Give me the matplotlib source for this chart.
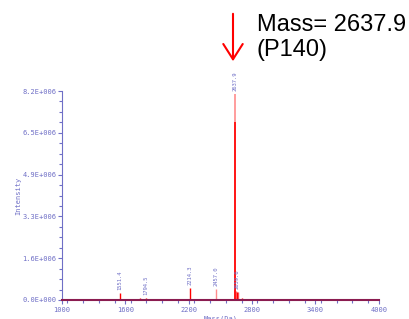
import matplotlib
matplotlib.use("Agg")
import matplotlib.pyplot as plt
from matplotlib.ticker import MultipleLocator

# peaks (mass in Da, intensity)
masses = [1390, 1551.4, 1736, 1794.5, 1990, 2100, 2214.3, 2457.0, 2637.9, 2639.5, 2652, 2659.6, 2668, 2700, 3050, 3300, 3330]
intens = [0.03e6, 0.29e6, 0.07e6, 0.09e6, 0.03e6, 0.04e6, 0.48e6, 0.44e6, 8.1e6, 7.0e6, 0.35e6, 0.33e6, 0.30e6, 0.06e6, 0.04e6, 0.05e6, 0.04e6]
alphas = [1, 1, 1, 1, 1, 1, 1, 0.45, 0.45, 1, 0.6, 1, 0.6, 1, 1, 1, 1]

labeled = ["1551.4", "1794.5", "2214.3", "2457.0", "2637.9", "2659.6"]

yticks = [0, 1.64e6, 3.28e6, 4.92e6, 6.56e6, 8.2e6]
ytick_labels = ["0.0E+000", "1.6E+006", "3.3E+006", "4.9E+006", "6.5E+006", "8.2E+006"]
xticks = [1000, 1600, 2200, 2800, 3400, 4000]

blue = "#6f6fc6"
maroon = "#8b1c50"

fig = plt.figure(figsize=(4.10, 3.19), dpi=100)
ax = fig.add_axes([0.151, 0.0596, 0.773, 0.655])

for m, h, a in zip(masses, intens, alphas):
    ax.vlines(m, 0, h, color="red", alpha=a, linewidth=1.2 if h > 5e6 else 1.0)

for lab in labeled:
    m = float(lab)
    h = max(i for mm, i in zip(masses, intens) if abs(mm - m) < 0.01)
    ax.text(m, h + 0.12e6, lab, rotation=90, fontsize=4, color=blue,
            family="DejaVu Sans Mono", ha="center", va="bottom")

ax.set_xlim(1000, 4000)
ax.set_ylim(0, 8.2e6)
ax.set_xticks(xticks)
ax.set_xticklabels([str(x) for x in xticks])
ax.xaxis.set_minor_locator(MultipleLocator(150))
ax.set_yticks(yticks)
ax.set_yticklabels(ytick_labels)
ax.yaxis.set_minor_locator(MultipleLocator(1.64e6 / 4))

ax.spines["top"].set_visible(False)
ax.spines["right"].set_visible(False)
ax.spines["left"].set_color(blue)
ax.spines["bottom"].set_color(maroon)
ax.spines["bottom"].set_linewidth(1.5)

ax.tick_params(axis="both", which="both", colors=blue, labelsize=5, width=0.8)
ax.tick_params(axis="both", which="major", length=3, pad=1)
ax.tick_params(axis="x", which="major", pad=2)
ax.tick_params(axis="both", which="minor", length=2)
for t in ax.get_xticklabels() + ax.get_yticklabels():
    t.set_family("DejaVu Sans Mono")

ax.set_xlabel("Mass(Da)", fontsize=5, color=blue, family="DejaVu Sans Mono", labelpad=2)
ax.set_ylabel("Intensity", fontsize=5, color=blue, family="DejaVu Sans Mono", labelpad=1)

# annotation arrow and text
fig.patches.append(matplotlib.patches.FancyArrowPatch(
    (233 / 410, 1 - 11 / 319), (233 / 410, 1 - 64 / 319), transform=fig.transFigure,
    arrowstyle="->,head_length=11,head_width=7", color="red", linewidth=1.5))
fig.text(257 / 410, 1 - 14 / 319, "Mass= 2637.9\n(P140)", fontsize=17,
         family="Liberation Sans", va="top", ha="left", linespacing=1.15)

fig.savefig("out.png", dpi=100)
